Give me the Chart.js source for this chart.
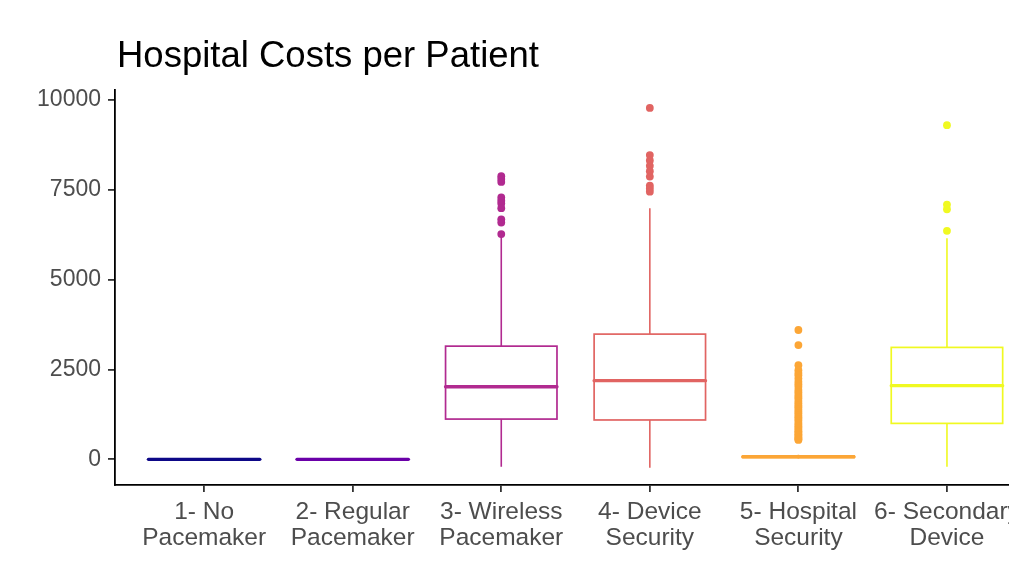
<!DOCTYPE html>
<html>
<head>
<meta charset="utf-8">
<script src="https://cdn.jsdelivr.net/npm/chart.js@4/dist/chart.umd.min.js"></script>
<style>
  html, body { margin: 0; padding: 0; background: #ffffff; overflow: hidden; }
  #wrap { width: 1040px; height: 561px; position: relative; }
</style>
</head>
<body>
<div id="wrap"><canvas id="chart" width="1040" height="561"></canvas></div>
<script>
// Treatment groups (two-line axis labels)
const categories = [
  ['1- No', 'Pacemaker'],
  ['2- Regular', 'Pacemaker'],
  ['3- Wireless', 'Pacemaker'],
  ['4- Device', 'Security'],
  ['5- Hospital', 'Security'],
  ['6- Secondary', 'Device']
];

// Five-number summaries per group
const whiskerLow  = [0, 0, -210, -235, 20, -210];
const q1          = [0, 0, 1120, 1095, 50, 1000];
const median      = [0, 0, 2020, 2190, 70, 2050];
const q3          = [0, 0, 3150, 3485, 95, 3115];
const whiskerHigh = [0, 0, 6190, 6985, 130, 6150];

// Points beyond the whiskers
const outliers1 = [];
const outliers2 = [];
const outliers3 = [7880, 7800, 7720, 7290, 7200, 7120, 6990, 6680, 6590, 6270];
const outliers4 = [9780, 8470, 8320, 8170, 8020, 7870, 7620, 7540, 7450];
const outliers5 = [3600, 3180, 2620, 2480, 2400, 2340, 2250, 2160, 2090, 2020,
                   1930, 1870, 1800, 1740, 1690, 1620, 1560, 1500, 1450, 1390,
                   1330, 1280, 1220, 1170, 1120, 1070, 1010, 960, 910, 870,
                   820, 780, 740, 700, 660, 620, 590, 560, 540];
const outliers6 = [9300, 7090, 6960, 6360];
const outliers = [outliers1, outliers2, outliers3, outliers4, outliers5, outliers6];

// Y axis tick values
const yTicks = [0, 2500, 5000, 7500, 10000];

const titleText = 'Hospital Costs per Patient';

// Plasma palette, one colour per group
const colors = ['#0D0887', '#6A00A8', '#B12A90', '#E16462', '#FCA636', '#F0F921'];

const FONT = '"Liberation Sans", Arial, Helvetica, sans-serif';

// Box, whiskers and median for each group, placed through the chart scales
const boxPlugin = {
  id: 'boxes',
  beforeDatasetsDraw(chart) {
    const ctx = chart.ctx;
    const xs = chart.scales.x, ys = chart.scales.y;
    ctx.save();
    categories.forEach((c, i) => {
      const cx = xs.getPixelForValue(i + 1);
      const left = xs.getPixelForValue(i + 1 - 0.375);
      const right = xs.getPixelForValue(i + 1 + 0.375);
      const yLo = ys.getPixelForValue(whiskerLow[i]);
      const yQ1 = ys.getPixelForValue(q1[i]);
      const yMed = ys.getPixelForValue(median[i]);
      const yQ3 = ys.getPixelForValue(q3[i]);
      const yHi = ys.getPixelForValue(whiskerHigh[i]);
      ctx.strokeStyle = colors[i];
      ctx.lineCap = 'butt';
      // whiskers
      ctx.lineWidth = 1.6;
      ctx.beginPath();
      ctx.moveTo(cx, yQ3); ctx.lineTo(cx, yHi);
      ctx.moveTo(cx, yQ1); ctx.lineTo(cx, yLo);
      ctx.stroke();
      // box
      ctx.fillStyle = '#ffffff';
      ctx.fillRect(left, yQ3, right - left, yQ1 - yQ3);
      ctx.lineWidth = 1.7;
      ctx.strokeRect(left, yQ3, right - left, yQ1 - yQ3);
      // median
      ctx.lineWidth = 3.3;
      ctx.lineCap = 'round';
      ctx.beginPath();
      ctx.moveTo(left, yMed); ctx.lineTo(right, yMed);
      ctx.stroke();
    });
    ctx.restore();
  }
};

// Plot title, left-aligned with the panel
const titlePlugin = {
  id: 'plotTitle',
  afterDraw(chart) {
    const ctx = chart.ctx;
    ctx.save();
    ctx.font = '36.5px ' + FONT;
    ctx.fillStyle = '#000000';
    ctx.textBaseline = 'alphabetic';
    ctx.textAlign = 'left';
    ctx.fillText(titleText, chart.chartArea.left + 2, 67);
    ctx.restore();
  }
};

const datasets = outliers.map((vals, i) => ({
  label: categories[i].join(' '),
  data: vals.map(v => ({ x: i + 1, y: v })),
  pointRadius: 3.9,
  pointHoverRadius: 3.9,
  pointBorderWidth: 0,
  pointBackgroundColor: colors[i],
  pointBorderColor: colors[i],
  showLine: false
}));

new Chart(document.getElementById('chart'), {
  type: 'scatter',
  data: { datasets },
  plugins: [boxPlugin, titlePlugin],
  options: {
    responsive: false,
    animation: false,
    devicePixelRatio: 1,
    layout: { padding: { top: 90, left: 0, right: 3, bottom: 0 } },
    plugins: {
      legend: { display: false },
      tooltip: { enabled: false },
      title: { display: false }
    },
    scales: {
      x: {
        type: 'linear',
        min: 0.4,
        max: 6.6,
        afterBuildTicks(scale) {
          scale.ticks = categories.map((c, i) => ({ value: i + 1 }));
        },
        afterFit(scale) { scale.height = 76; },
        ticks: {
          callback(value) { return categories[value - 1]; },
          color: '#4D4D4D',
          font: { family: FONT, size: 24.5, lineHeight: 1.08 },
          padding: 7,
          maxRotation: 0,
          autoSkip: false
        },
        grid: {
          drawOnChartArea: false,
          drawTicks: true,
          tickLength: 7,
          color: '#333333',
          lineWidth: 1.8
        },
        border: { display: true, color: '#000000', width: 1.8 }
      },
      y: {
        type: 'linear',
        min: -715,
        max: 10280,
        afterBuildTicks(scale) {
          scale.ticks = yTicks.map(v => ({ value: v }));
        },
        afterFit(scale) { scale.width = 115; },
        ticks: {
          callback(value) { return String(value); },
          color: '#4D4D4D',
          font: { family: FONT, size: 23 },
          padding: 7
        },
        grid: {
          drawOnChartArea: false,
          drawTicks: true,
          tickLength: 7,
          color: '#333333',
          lineWidth: 1.8
        },
        border: { display: true, color: '#000000', width: 1.8 }
      }
    }
  }
});
</script>
</body>
</html>
